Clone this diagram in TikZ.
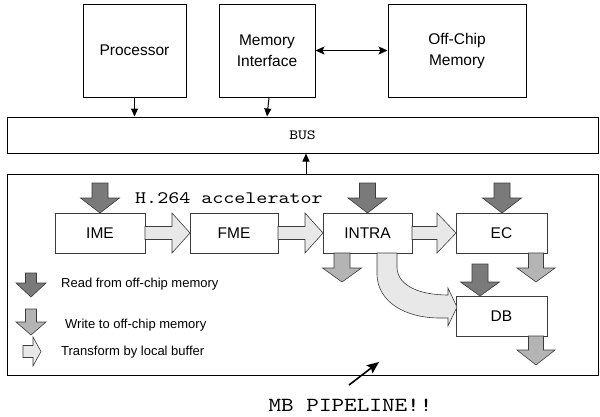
\documentclass[tikz,border=0pt]{standalone}
\usepackage{fontspec}
\setmainfont{Liberation Sans}
\newfontfamily\courfont[FakeStretch=1.2]{lmmono10-regular.otf}
\usetikzlibrary{arrows.meta}
\definecolor{readc}{HTML}{7A7A7A}
\definecolor{writec}{HTML}{B4B4B4}
\definecolor{transc}{HTML}{E8E8E8}
\definecolor{edgec}{HTML}{3C3C3C}
% down block arrow: style, cx, top, base, tip, shaft half, head half
\newcommand\DArr[7]{\path[#1] ({#2-#6},{#3}) -- ({#2+#6},{#3}) -- ({#2+#6},{#4}) -- ({#2+#7},{#4}) -- ({#2},{#5}) -- ({#2-#7},{#4}) -- ({#2-#6},{#4}) -- cycle;}
% right block arrow: style, x0, base, tip, cy, shaft half, head half
\newcommand\RArr[7]{\path[#1] ({#2},{#5-#6}) -- ({#3},{#5-#6}) -- ({#3},{#5-#7}) -- ({#4},{#5}) -- ({#3},{#5+#7}) -- ({#3},{#5+#6}) -- ({#2},{#5+#6}) -- cycle;}
\begin{document}
\begin{tikzpicture}[x=1pt,y=-1pt,
  topbox/.style={draw=black, line width=1pt, inner sep=0pt, align=center,
    font=\fontsize{15.5}{21}\selectfont},
  frame/.style={draw=black, line width=1pt, inner sep=0pt},
  pbox/.style={draw=edgec, line width=0.8pt, fill=white, inner sep=0pt,
    minimum width=89pt, minimum height=40pt, font=\fontsize{15.5}{19}\selectfont},
  readarr/.style={fill=readc, draw=edgec, line width=0.6pt},
  writearr/.style={fill=writec, draw=edgec, line width=0.6pt},
  transarr/.style={fill=transc, draw=edgec, line width=0.6pt},
  conn/.style={draw=black, line width=1pt, -{Triangle[length=8pt,width=7pt]}},
  legend/.style={anchor=base west, inner sep=0pt, font=\fontsize{13}{15}\selectfont},
]
\useasboundingbox (0,0) rectangle (600,416);

% top level
\node[topbox, minimum width=103pt, minimum height=93pt] (proc) at (134.5,50.5) {Processor};
\node[topbox, minimum width=96pt, minimum height=93pt] (mi) at (267,50.5) {Memory\\Interface};
\node[topbox, minimum width=138pt, minimum height=93pt] (ocm) at (457,50.5) {Off-Chip\\Memory};
\node[frame, minimum width=591pt, minimum height=36pt, font=\courfont\fontsize{14}{16}\selectfont] (bus) at (302.5,135) {BUS};
\node[frame, minimum width=591pt, minimum height=201pt] (acc) at (302.5,274.5) {};

\draw[conn] (proc.south) -- (proc.south |- bus.north);
\draw[conn] ([xshift=2pt]mi.south) -- (mi.south |- bus.north);
\draw[draw=black, line width=1pt, {Stealth[length=9pt,width=8pt,inset=2pt]}-{Stealth[length=9pt,width=8pt,inset=2pt]}] (mi.east) -- (ocm.west);
\draw[conn] ([xshift=3.5pt]acc.north) -- ([xshift=3.5pt]bus.south);

% pipeline
\node[pbox, minimum width=90pt] (ime) at (100,233) {IME};
\node[pbox, minimum width=88pt] (fme) at (234,233) {FME};
\node[pbox] (intra) at (367.5,233) {INTRA};
\node[pbox, minimum width=91pt] (ec) at (501.5,233) {EC};
\node[pbox, minimum width=91pt] (db) at (501.5,316) {DB};

\node[anchor=west, inner sep=0pt, font=\courfont\fontsize{17.5}{20}\selectfont] (h264) at (135,198) {H.264 accelerator};

% transform arrows
\RArr{transarr}{145}{172}{190}{233}{6.5}{20}
\RArr{transarr}{278}{305}{323}{233}{6.5}{20}
\RArr{transarr}{412}{437}{456}{233}{6.5}{20}
\path[transarr] (377,253) -- (377,275) .. controls (378,302) and (405,318) .. (440,318) -- (448,318) -- (448,326) -- (457,307) -- (448,288) -- (448,295) .. controls (420,295) and (398,286) .. (397,268) -- (397,253) -- cycle;

% read arrows
\DArr{readarr}{100}{183}{198}{213}{8}{19.5}
\DArr{readarr}{367.5}{183}{198}{213}{8}{19.5}
\DArr{readarr}{502}{183}{198}{213}{8}{19.5}
\DArr{readarr}{480}{264}{282}{296}{8}{19.5}

% write arrows
\DArr{writearr}{342}{253}{268}{282}{8}{19.5}
\DArr{writearr}{536}{253}{268}{282}{7.5}{19}
\DArr{writearr}{536}{336}{350}{365}{7.5}{19}

% legend
\DArr{readarr}{31}{273}{283}{297}{5.5}{15}
\DArr{writearr}{31}{309}{322}{335}{5.5}{15}
\RArr{transarr}{23}{33}{41}{351.5}{6}{14.5}
\node[legend] (lr) at (61,287.5) {Read from off-chip memory};
\node[legend] (lw) at (65,328) {Write to off-chip memory};
\node[legend] (lt) at (61,355) {Transform by local buffer};

% MB pipeline
\node[inner sep=0pt, font=\courfont\fontsize{20}{23}\selectfont] (mbp) at (350.5,405) {MB PIPELINE!!};
\coordinate (mbtail) at (349,385);
\coordinate (mbtip) at (379,362);
\draw[draw=black, line width=1.6pt, -{Stealth[length=12pt,width=10pt,inset=2pt]}] (mbtail) -- (mbtip);
\end{tikzpicture}
\end{document}
